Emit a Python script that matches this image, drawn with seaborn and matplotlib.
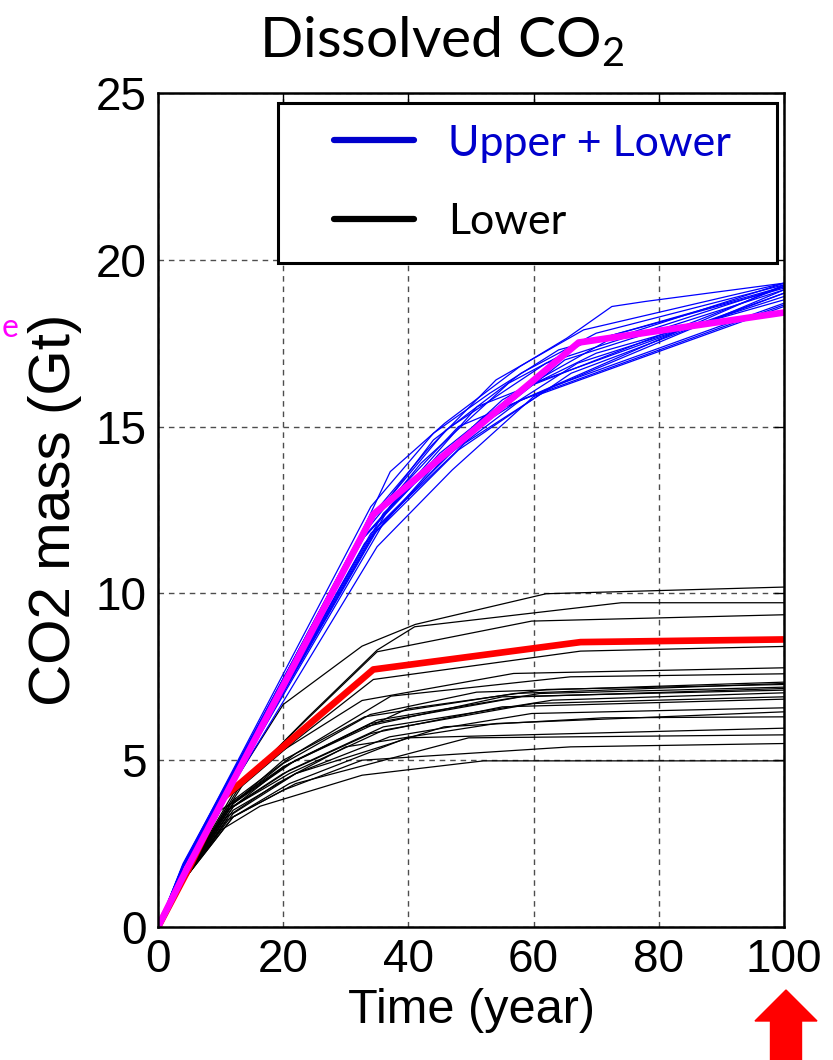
import numpy as np
import pandas as pd
import seaborn as sns
import matplotlib.pyplot as plt
from matplotlib.lines import Line2D
from matplotlib.patches import Polygon
from matplotlib.legend_handler import HandlerLine2D

# ---------------- data ----------------
title_text = "Dissolved CO$_\\mathregular{2}$"
x_label = "Time (year)"
y_label = "CO2 mass (Gt)"
legend_labels = ["Upper + Lower", "Lower"]
x_ticks = [0, 20, 40, 60, 80, 100]
y_ticks = [0, 5, 10, 15, 20, 25]

# Upper + Lower realisations (blue)
blue_t = [
    [0, 4, 30.7, 37.1, 45.8, 57.8, 65.3, 72.5, 77.8, 100],
    [0, 4, 33, 44, 58, 70, 100],
    [0, 4, 34, 46, 62, 100],
    [0, 4, 32, 42, 56, 68, 100],
    [0, 4, 35, 50, 65, 100],
    [0, 4, 33, 48, 66, 100],
    [0, 4, 36, 52, 100],
    [0, 4, 31, 40, 55, 72, 100],
    [0, 4, 34, 49, 63, 100],
    [0, 4, 35, 47, 60, 100],
    [0, 4, 33, 45, 57, 70, 100],
    [0, 4, 34, 44, 53, 64, 100],
    [0, 4, 37, 51, 100],
    [0, 4, 32, 41, 52, 67, 100],
    [0, 4, 35, 46, 58, 100],
    [0, 4, 34, 43, 54, 68, 100],
    [0, 4, 33, 48, 100],
    [0, 4, 36, 45, 60, 100],
]
blue_v = [
    [0, 1.85, 11.1, 13.65, 15.1, 16.8, 17.65, 18.6, 18.75, 19.3],
    [0, 1.85, 11.9, 14.6, 16.6, 17.8, 19.25],
    [0, 1.8, 12.2, 14.9, 16.9, 19.2],
    [0, 1.9, 11.6, 13.9, 16.3, 17.5, 19.2],
    [0, 1.8, 12.0, 14.8, 17.0, 19.1],
    [0, 1.8, 11.5, 14.3, 16.6, 19.0],
    [0, 1.8, 12.4, 15.3, 19.25],
    [0, 1.85, 11.3, 13.2, 15.8, 17.6, 19.3],
    [0, 1.8, 11.8, 14.5, 16.2, 18.7],
    [0, 1.8, 11.4, 13.7, 15.9, 18.6],
    [0, 1.8, 11.7, 14.2, 16.0, 17.2, 18.8],
    [0, 1.85, 12.6, 14.8, 16.0, 17.3, 19.15],
    [0, 1.8, 12.6, 15.6, 19.2],
    [0, 1.85, 11.5, 13.3, 15.1, 16.9, 18.9],
    [0, 1.8, 11.9, 14.1, 15.8, 18.65],
    [0, 1.8, 12.3, 14.3, 16.4, 17.9, 19.3],
    [0, 1.8, 12.0, 15.0, 19.1],
    [0, 1.8, 12.1, 14.0, 16.3, 19.0],
]

# Lower realisations (black)
black_t = [
    [0, 4.5, 12, 20, 32.6, 41.1, 62, 100],
    [0, 4.5, 14, 24, 35, 41, 74, 100],
    [0, 4.5, 13, 22, 35, 59.7, 100],
    [0, 4.5, 12, 22, 34.4, 67.5, 100],
    [0, 4.5, 11, 20, 32.6, 56.8, 100],
    [0, 4.5, 12, 22, 37.2, 65.9, 100],
    [0, 4.5, 12, 20, 33.9, 50.9, 100],
    [0, 4.5, 11, 21, 39.8, 62, 100],
    [0, 4.5, 12, 22, 35, 61, 100],
    [0, 4.5, 10, 20, 33, 55, 100],
    [0, 4.5, 12, 21, 36, 63, 100],
    [0, 4.5, 11, 20, 34, 55, 100],
    [0, 4.5, 12, 22, 37, 59.7, 100],
    [0, 4.5, 12, 22, 45.7, 71.1, 100],
    [0, 4.5, 12, 21, 39.8, 100],
    [0, 4.5, 12, 22, 49.6, 100],
    [0, 4.5, 11, 20, 32.6, 65.9, 100],
    [0, 4.5, 10, 16.3, 32.6, 52, 100],
    [0, 4.5, 12, 20, 34, 58, 100],
    [0, 4.5, 11, 21, 36, 60, 100],
    [0, 4.5, 12, 20, 33, 57, 100],
    [0, 4.5, 11, 19, 30, 54, 100],
]
black_v = [
    [0, 1.65, 4.3, 6.67, 8.42, 9.07, 9.99, 10.19],
    [0, 1.6, 4.4, 6.3, 8.3, 9.0, 9.72, 9.72],
    [0, 1.6, 4.2, 5.9, 8.25, 9.17, 9.36],
    [0, 1.6, 4.0, 5.6, 7.42, 8.27, 8.41],
    [0, 1.6, 3.9, 5.3, 6.79, 7.6, 7.77],
    [0, 1.55, 3.8, 5.2, 6.92, 7.5, 7.59],
    [0, 1.55, 3.7, 4.9, 6.37, 7.04, 7.34],
    [0, 1.55, 3.6, 4.9, 6.54, 7.12, 7.27],
    [0, 1.55, 3.7, 5.0, 6.2, 7.0, 7.19],
    [0, 1.6, 3.5, 4.8, 6.0, 6.9, 7.10],
    [0, 1.55, 3.6, 4.7, 6.0, 6.8, 7.02],
    [0, 1.55, 3.5, 4.6, 5.8, 6.6, 6.83],
    [0, 1.5, 3.5, 4.6, 5.7, 6.4, 6.57],
    [0, 1.5, 3.4, 4.6, 6.0, 6.27, 6.30],
    [0, 1.5, 3.3, 4.3, 5.67, 5.96],
    [0, 1.5, 3.3, 4.3, 5.67, 5.76],
    [0, 1.5, 3.2, 4.1, 5.0, 5.4, 5.5],
    [0, 1.5, 2.9, 3.62, 4.55, 4.98, 4.98],
    [0, 1.55, 3.6, 4.8, 6.1, 6.9, 7.15],
    [0, 1.55, 3.5, 4.6, 5.9, 6.7, 6.9],
    [0, 1.6, 3.7, 5.0, 6.3, 7.0, 7.3],
    [0, 1.5, 3.3, 4.3, 5.4, 6.1, 6.45],
]

# highlighted realisations
magenta_t = [0, 4.5, 34.4, 67.2, 100]
magenta_v = [0, 1.7, 12.37, 17.52, 18.42]
red_t = [0, 4.5, 10.4, 34.4, 67.5, 100]
red_v = [0, 1.6, 3.87, 7.72, 8.54, 8.62]


def to_frame(ts, vs):
    rows = []
    for i, (t, v) in enumerate(zip(ts, vs)):
        for a, b in zip(t, v):
            rows.append((i, a, b))
    return pd.DataFrame(rows, columns=["run", "t", "v"])


df_blue = to_frame(blue_t, blue_v)
df_black = to_frame(black_t, black_v)
df_mag = pd.DataFrame({"t": magenta_t, "v": magenta_v})
df_red = pd.DataFrame({"t": red_t, "v": red_v})

# ---------------- figure ----------------
sns.set_theme(style="white", rc={"text.color": "black",
                                 "axes.labelcolor": "black",
                                 "xtick.color": "black",
                                 "ytick.color": "black"})
plt.rcParams["font.family"] = ["Liberation Sans", "DejaVu Sans"]
plt.rcParams["mathtext.fontset"] = "custom"

fig = plt.figure(figsize=(8.33, 10.6), dpi=100)
ax = fig.add_axes([158 / 833, 133 / 1060, 626 / 833, 834 / 1060])

sns.lineplot(data=df_black, x="t", y="v", units="run", estimator=None,
             color="black", lw=0.9, ax=ax, sort=False)
sns.lineplot(data=df_red, x="t", y="v", estimator=None, color="#ff0000",
             lw=4.8, ax=ax, sort=False)
sns.lineplot(data=df_blue, x="t", y="v", units="run", estimator=None,
             color="#0000ff", lw=0.9, ax=ax, sort=False)
sns.lineplot(data=df_mag, x="t", y="v", estimator=None, color="#ff00ff",
             lw=4.8, ax=ax, sort=False)

ax.set_xlim(0, 100)
ax.set_ylim(0, 25)
ax.set_xticks(x_ticks)
ax.set_yticks(y_ticks)
ax.set_xticklabels([str(v) for v in x_ticks])
ax.set_yticklabels([str(v) for v in y_ticks])
ax.grid(True, linestyle=(0, (4, 3.5)), color="0.3", lw=1.0)
ax.tick_params(direction="in", length=7, width=1, top=True, right=True,
               labelsize=33, pad=8, colors="black")
for s in ax.spines.values():
    s.set_color("black")
    s.set_linewidth(1.8)

ax.set_xlabel(x_label, fontsize=35, labelpad=4)
ax.set_ylabel(y_label, fontsize=42, labelpad=10)

fig.text(442 / 833, 1 - 42 / 1060, title_text, ha="center", va="center",
         fontsize=41, family=["Lato", "DejaVu Sans"])

handles = [Line2D([], [], color="#0000cc", lw=4.5),
           Line2D([], [], color="black", lw=4.5)]
hmap = {h: HandlerLine2D(xpad=0.8) for h in handles}
leg = ax.legend(handles, legend_labels, loc="upper left",
                bbox_to_anchor=(0.192, 0.988, 0.797, 0.0), mode="expand",
                borderaxespad=0, fancybox=False, edgecolor="black",
                framealpha=1, handlelength=2.65, handler_map=hmap,
                handletextpad=0.8, labelspacing=0.95, borderpad=0.5,
                prop={"family": ["Lato", "DejaVu Sans"], "size": 31})
leg.get_frame().set_linewidth(2.2)
leg.get_texts()[0].set_color("#0000cc")
leg.get_texts()[1].set_color("black")

# clipped magenta label fragment on the left
fig.text(2 / 833, 1 - 328 / 1060, "e", color="#ff00ff", fontsize=23,
         ha="left", va="center", family=["Lato", "DejaVu Sans"])

# red up-arrow under the last tick
cx, tip, base, bot = 786 / 833, 1 - 990 / 1060, 1 - 1021 / 1060, 0.0
hw, sw = 31 / 833, 15.5 / 833
arrow = Polygon([(cx, tip), (cx + hw, base), (cx + sw, base), (cx + sw, bot),
                 (cx - sw, bot), (cx - sw, base), (cx - hw, base)],
                closed=True, transform=fig.transFigure, color="#ff0000",
                clip_on=False)
fig.patches.append(arrow)

fig.savefig("out.png", dpi=100)
